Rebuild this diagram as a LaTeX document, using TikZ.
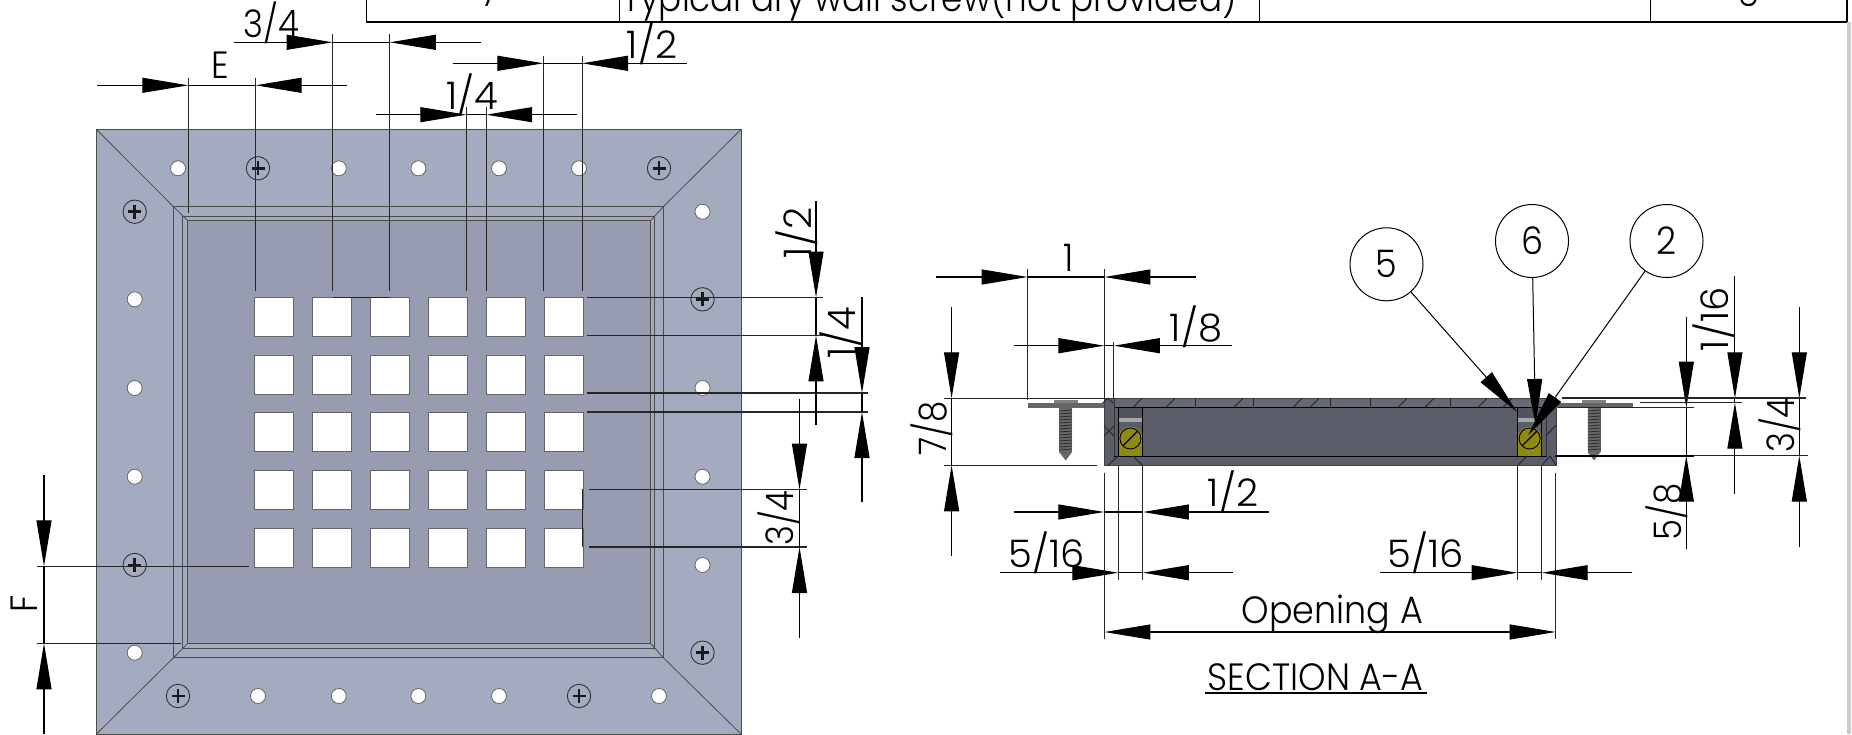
\documentclass[tikz,border=0pt]{standalone}
\usepackage{fontspec}
\setmainfont[FakeStretch=0.92]{Poppins Light}
\usetikzlibrary{arrows.meta}
\definecolor{flangecol}{HTML}{A5ABBE}
\definecolor{recesscol}{HTML}{979CB1}
\definecolor{bodycol}{HTML}{5B5E69}
\definecolor{bandcol}{HTML}{666974}
\definecolor{brasscol}{HTML}{8F8A10}
\newcommand{\fr}[1]{\scalebox{0.97}[1]{#1}}
\newcommand{\frw}[1]{\scalebox{1.1}[1]{#1}}
\tikzset{
  dimline/.style={line width=0.55pt,black},
  extline/.style={line width=0.45pt,black!85},
  dimlabel/.style={inner sep=0pt,font=\fontsize{19}{19}\selectfont},
  balloon/.style={circle,draw,line width=0.5pt,minimum size=36.5pt,inner sep=0pt,font=\fontsize{19}{19}\selectfont},
  leader/.style={line width=0.5pt},
  edgeline/.style={line width=0.4pt,black!70},
  hatchmark/.style={line width=0.45pt,black!85}
}
\begin{document}
\begin{tikzpicture}[x=0.5pt,y=-0.5pt,>={Triangle[length=23pt,width=7.5pt]}]
\useasboundingbox (0,0) rectangle (1852,734);

% parts list
\begin{scope}
\clip (0,0) rectangle (1852,734);
\draw[line width=0.6pt] (366.7,-10) -- (366.7,22) -- (1847,22) -- (1847,-10);
\foreach \xx in {619.5,1259.5,1650}
  \draw[line width=0.5pt] (\xx,-10) -- (\xx,22);
\node[dimlabel,anchor=base] (rowno) at (490,6) {7};
\node[dimlabel,anchor=base west] (rowname) at (622,11) {\scalebox{0.98}[1]{Typical dry wall screw(not provided)}};
\node[dimlabel,anchor=base] (rowqty) at (1748,6) {6};
\draw[black!20,line width=2pt] (1849,22) -- (1849,734);
\end{scope}

% front view
\fill[flangecol,draw=black!70,line width=0.4pt] (96.5,129.5) rectangle (741,734);
\fill[recesscol] (187.8,220.7) rectangle (650.5,643.3);
\draw[edgeline] (96.5,129.5) -- (173.5,206.7) (741,129.5) -- (663.3,206.7)
  (96.5,734) -- (173.5,657.7) (741,734) -- (663.3,657.7);
\draw[edgeline,line width=0.6pt] (173.5,206.7) rectangle (663.3,657.7);
\draw[edgeline] (182.6,216) rectangle (654.6,648);
\draw[edgeline,line width=0.6pt] (187.8,220.7) rectangle (650.5,643.3);
\draw[edgeline] (173.5,206.7) -- (187.8,220.7) (663.3,206.7) -- (650.5,220.7)
  (173.5,657.7) -- (187.8,643.3) (663.3,657.7) -- (650.5,643.3);

% slots
\foreach \yy in {297.3,355.2,412.6,470.6,528.6}
  \foreach \xx in {254.6,312.8,370.4,428,486.2,543.9}
    \draw[fill=white,draw=black!60,line width=0.4pt] (\xx,\yy) rectangle ++(39,38.8);

% holes and screws
\foreach \xx/\yy in {178/168.3,338.8/168.3,418.4/168.3,499/168.3,579/168.3,
  499/696,418.4/696,338.8/696,258/696,659/696,
  134.7/299.3,134.7/388,134.7/476.7,134.7/652.7,
  702.5/211.7,702.5/388,702.5/476.7,702.5/565}
  \draw[fill=white,draw=black!60,line width=0.4pt] (\xx,\yy) circle (7.5);
\foreach \xx/\yy in {258/168.3,659/168.3,178/696,579/696,134.7/211.7,134.7/565,702.5/299.3,702.5/652.7} {
  \draw[line width=0.45pt,black!80] (\xx,\yy) circle (11.7);
  \draw[line width=1.4pt,black!90] (\xx-6.5,\yy) -- (\xx+6.5,\yy) (\xx,\yy-7) -- (\xx,\yy+7);
}

% extension lines, front view
\foreach \xx/\ya/\yb in {188.3/77.7/213,255.6/77.7/290.7,332.7/34/290.7,389.8/34/290.7,
  466.3/107.3/290.7,486.2/107.3/290.7,543.4/56/290.7,582/56/290.7,582/489/547,
  1027.6/269/400,1104.4/269/400,1113.8/342/400,1104.4/472.7/639,1555.7/472.7/639,
  1118.3/465/580,1142.9/465/580,1517.5/465/580,1541.7/465/580}
  \draw[extline] (\xx,\ya) -- (\xx,\yb);
\foreach \yy/\xa/\xb in {297.6/587/823,335.4/587/823,393/587/868,412/587/868,
  489.7/589/807,547/589/807,566.3/36.7/248.5,643.3/36.7/181,297.3/332.7/389.8}
  \draw[extline,line width=0.6pt] (\xa,\yy) -- (\xb,\yy);

% horizontal dimensions
\foreach \yy/\xa/\xb/\xc/\xd in {85.3/97/188.3/255.6/347,42.3/234/332.7/389.8/481,
  63.3/452.6/543.4/582/687,114.7/376/466.3/486.2/577,
  277/936.4/1027.6/1104.4/1195.7,345.7/1013.6/1104.4/1113.8/1232,512/1013.6/1104.4/1142.9/1268.6,
  572.7/1000.2/1118.3/1142.9/1233,572.7/1379.5/1517.5/1541.7/1632.3} {
  \draw[dimline,->] (\xa,\yy) -- (\xb,\yy);
  \draw[dimline] (\xb,\yy) -- (\xc,\yy);
  \draw[dimline,->] (\xd,\yy) -- (\xc,\yy);
}
\draw[dimline,<->] (1104.4,632) -- (1555.7,632);

% vertical dimensions
\foreach \xx/\ya/\yb/\yc/\yd in {816/200.8/297.6/335.4/425,862/297/393/412/502,
  799.5/398.7/489.7/547/638,44/475/566.3/643.3/734,
  951.6/307.3/398.3/465.3/556,1686.3/316.7/407.7/455.7/549.3,
  1734.9/275.7/398.3/402.7/494,1799.3/307/398.3/455.7/546.7} {
  \draw[dimline,->] (\xx,\ya) -- (\xx,\yb);
  \draw[dimline] (\xx,\yb) -- (\xx,\yc);
  \draw[dimline,->] (\xx,\yd) -- (\xx,\yc);
}

% section body
\fill[bodycol] (1104,398.3) rectangle (1556,465.3);
\fill[bandcol] (1114,398.3) rectangle (1547,407.3);
\foreach \xx in {1118.3,1517.5} {
  \fill[bandcol!80!black] (\xx,407.3) rectangle ++(24.2,10.4);
  \fill[black!35] (\xx,417.7) rectangle ++(24.2,4.6);
  \fill[brasscol] (\xx,439) rectangle ++(24.2,17);
  \fill[brasscol] (\xx+12.1,438.5) circle (12);
  \draw[line width=0.45pt] (\xx+12.1,438.5) circle (10.5);
  \draw[line width=0.6pt] (\xx+5,445.5) -- (\xx+19,431.5);
  \draw[line width=0.4pt] (\xx,407.3) -- (\xx,456) (\xx+24.2,407.3) -- (\xx+24.2,456);
}
\draw[line width=0.45pt,black!75] (1104,398.3) rectangle (1556,465.3);
\draw[line width=0.45pt] (1114,407.3) -- (1547,407.3);
\draw[line width=0.45pt] (1114,456) -- (1547,456);
\draw[line width=0.4pt,black!80] (1114,398.3) -- (1114,456) (1546.7,398.3) -- (1546.7,456);
\foreach \xx in {1133,1166,1234,1293,1310,1398,1425,1478,1503}
  \draw[hatchmark] (\xx,407.3) -- (\xx+9,398.3);
\foreach \xx in {1195,1253,1330,1370,1450}
  \draw[hatchmark] (\xx,398.3) -- (\xx,407.3);
\draw[hatchmark] (1104,426) -- (1114,436) (1104,436) -- (1114,426)
  (1098,407) -- (1108,398.3) -- (1113,403)
  (1108,465.3) -- (1118,456) (1133,456) -- (1142.5,465.3)
  (1518,465.3) -- (1527,456) (1542,465.3) -- (1550,456)
  (1546.7,435) -- (1556,425) (1550,456) -- (1556,465.3);

% flanges and wood screws
\foreach \xa/\xb/\xc in {1028/1104/1065.6,1556/1632.7/1594} {
  \fill[black!60] (\xa,403) rectangle (\xb,407.5);
  \fill[black!50] (\xc-12,400) rectangle (\xc+12,403);
  \fill[black!60] (\xc-6.5,407.5) rectangle (\xc+6.5,452);
  \fill[black!60] (\xc-6.5,452) -- (\xc,460.5) -- (\xc+6.5,452) -- cycle;
  \foreach \yy in {411,414,...,451}
    \draw[black!85,line width=0.35pt] (\xc-6.5,\yy) -- (\xc+6.5,\yy-1);
}
\draw[line width=0.8pt] (1555,455.7) -- (1694,455.7);
\foreach \yy/\xa/\xb in {398/1562/1806,402.7/1640/1742,407.7/1558/1694,455.7/1694/1807.7,398.3/944/1106.4,465.3/944/1097.4}
  \draw[extline,line width=0.6pt] (\xa,\yy) -- (\xb,\yy);

% balloons
\node[balloon] (bal5) at (1386.5,264.3) {5};
\node[balloon] (bal6) at (1532,241) {6};
\node[balloon] (bal2) at (1666.5,241) {2};
\coordinate (tip5) at (1516.7,411.7);
\coordinate (tip6) at (1535.5,425);
\coordinate (tip2) at (1528.3,435);
\draw[leader,->] (bal5) -- (tip5);
\draw[leader,->] (bal6) -- (tip6);
\draw[leader,->] (bal2) -- (tip2);

% labels
\node[dimlabel] (lE) at (220.4,65) {E};
\node[dimlabel] (l34a) at (271.4,22.7) {\fr{3/4}};
\node[dimlabel] (l12a) at (652,44) {\frw{1/2}};
\node[dimlabel] (l14a) at (472,95) {\frw{1/4}};
\node[dimlabel,rotate=90] (l12b) at (797,233) {\frw{1/2}};
\node[dimlabel,rotate=90] (l14b) at (841,333) {\frw{1/4}};
\node[dimlabel,rotate=90] (l34b) at (779,518) {\fr{3/4}};
\node[dimlabel,rotate=90] (lF) at (24,604) {F};
\node[dimlabel] (l1) at (1068.5,257.7) {1};
\node[dimlabel] (l18) at (1196,326.7) {\frw{1/8}};
\node[dimlabel] (l12c) at (1233,492) {\frw{1/2}};
\node[dimlabel] (l516a) at (1047,553) {\frw{5/16}};
\node[dimlabel] (l516b) at (1425.8,553) {\frw{5/16}};
\node[dimlabel] (lopen) at (1332.3,614) {Opening A};
\node[dimlabel,rotate=90] (l78) at (931.6,428) {\fr{7/8}};
\node[dimlabel,rotate=90] (l58) at (1666.6,511.7) {\fr{5/8}};
\node[dimlabel,rotate=90] (l116) at (1713.5,319.3) {\frw{1/16}};
\node[dimlabel,rotate=90] (l34c) at (1779.3,425) {\fr{3/4}};
\node[dimlabel] (lsection) at (1315.7,677) {SECTION A-A};
\draw[line width=0.6pt] (1205,693) -- (1427,693);
\end{tikzpicture}
\end{document}
